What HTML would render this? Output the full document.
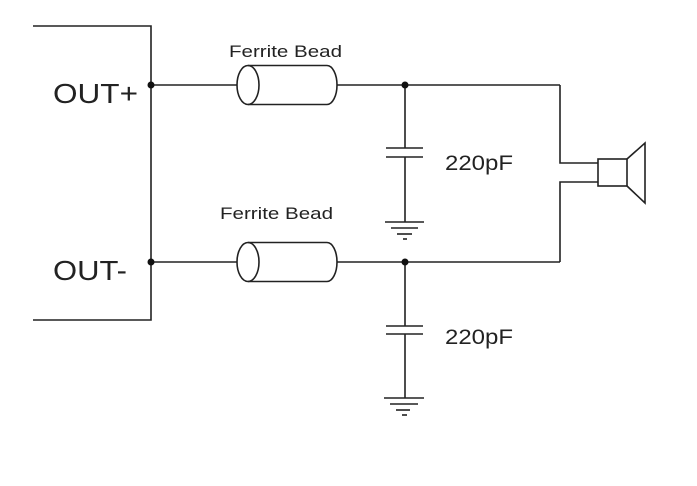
<!DOCTYPE html>
<html><head><style>
html,body{margin:0;padding:0;background:#fff;}
svg{display:block;}
text{font-family:"Liberation Sans",Arial,sans-serif;fill:#222;}
</style></head><body>
<svg width="697" height="486" viewBox="0 0 697 486" xmlns="http://www.w3.org/2000/svg">
<g stroke="#222" stroke-width="1.6" fill="none">
<polyline points="33,26 151,26 151,320 33,320"/>
<line x1="151" y1="85" x2="237" y2="85"/>
<line x1="337" y1="85" x2="560" y2="85"/>
<polyline points="560,85 560,163 598,163"/>
<line x1="151" y1="262" x2="237" y2="262"/>
<line x1="337" y1="262" x2="560" y2="262"/>
<polyline points="560,262 560,182 598,182"/>
<ellipse cx="248" cy="85" rx="11" ry="19.5"/>
<path d="M248,65.5 H327 A10,19.5 0 0 1 327,104.5 H248"/>
<ellipse cx="248" cy="262" rx="11" ry="19.5"/>
<path d="M248,242.5 H327 A10,19.5 0 0 1 327,281.5 H248"/>
<line x1="405" y1="85" x2="405" y2="148"/>
<line x1="386" y1="148" x2="423" y2="148"/>
<line x1="386" y1="157" x2="423" y2="157"/>
<line x1="405" y1="157" x2="405" y2="222"/>
<line x1="385" y1="222" x2="424" y2="222"/>
<line x1="391" y1="228" x2="418" y2="228"/>
<line x1="397" y1="234" x2="412" y2="234"/>
<line x1="403" y1="239" x2="407" y2="239"/>
<line x1="405" y1="262" x2="405" y2="326"/>
<line x1="386" y1="326" x2="423" y2="326"/>
<line x1="386" y1="334" x2="423" y2="334"/>
<line x1="405" y1="334" x2="405" y2="398"/>
<line x1="384" y1="398" x2="424" y2="398"/>
<line x1="390" y1="404" x2="418" y2="404"/>
<line x1="396" y1="410" x2="410" y2="410"/>
<line x1="402" y1="415" x2="407" y2="415"/>
<rect x="598" y="159" width="29" height="27"/>
<polyline points="627,159 645,143 645,203 627,186"/>
</g>
<g fill="#111">
<circle cx="151" cy="85" r="3.5"/>
<circle cx="151" cy="262" r="3.5"/>
<circle cx="405" cy="85" r="3.5"/>
<circle cx="405" cy="262" r="3.5"/>
</g>
<text x="53" y="103" font-size="28" textLength="85" lengthAdjust="spacingAndGlyphs">OUT+</text>
<text x="53" y="280" font-size="28" textLength="74" lengthAdjust="spacingAndGlyphs">OUT-</text>
<text x="229" y="57" font-size="17" fill="#333" textLength="113" lengthAdjust="spacingAndGlyphs">Ferrite Bead</text>
<text x="220" y="219" font-size="17" fill="#333" textLength="113" lengthAdjust="spacingAndGlyphs">Ferrite Bead</text>
<text x="445" y="170" font-size="21" textLength="68" lengthAdjust="spacingAndGlyphs">220pF</text>
<text x="445" y="344" font-size="21" textLength="68" lengthAdjust="spacingAndGlyphs">220pF</text>
</svg>
</body></html>
